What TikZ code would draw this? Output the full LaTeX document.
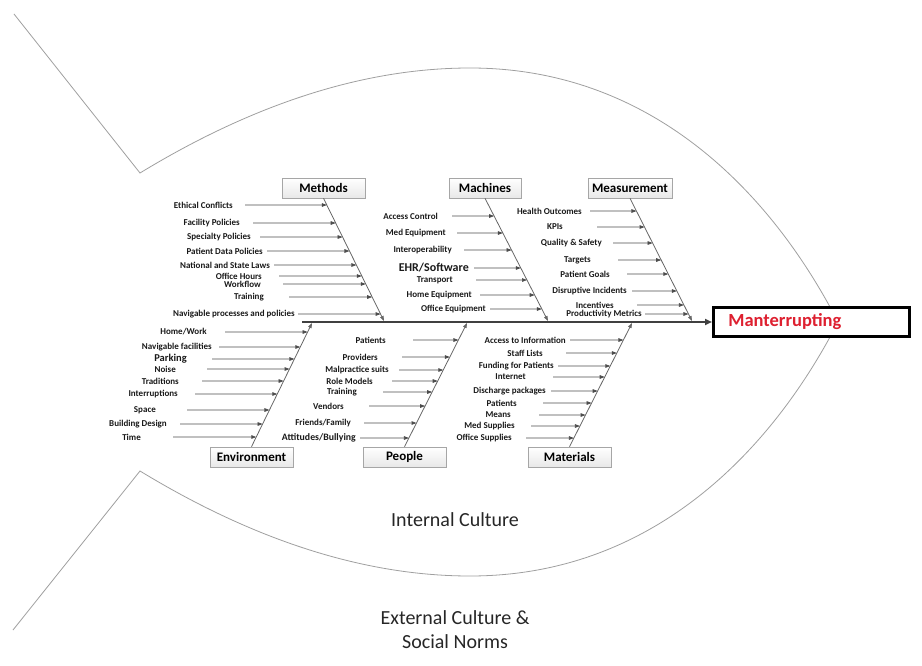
\documentclass[tikz,border=0pt]{standalone}
\usepackage{fontspec}
\setmainfont{Carlito}
\usetikzlibrary{arrows.meta, positioning, shadows}
\definecolor{headred}{RGB}{222,32,48}

\begin{document}
\begin{tikzpicture}[
  x=1pt, y=-1pt,
  outline/.style={draw=gray!75, line width=0.8pt},
  cat/.style={draw=gray!70, line width=0.6pt, top color=white, bottom color=gray!18,
              minimum width=83pt, minimum height=20pt, inner xsep=4pt, inner ysep=0pt,
              font=\fontsize{13}{13}\selectfont\bfseries,
              drop shadow={shadow xshift=1.2pt, shadow yshift=-1.2pt, opacity=0.3}},
  head/.style={draw=black, line width=2.8pt, fill=white, minimum height=29pt,
               text width=166pt, inner xsep=15pt, inner ysep=0pt, align=left,
               text=headred, font=\fontsize{18.5}{18.5}\selectfont\bfseries},
  lbl/.style={anchor=east, inner sep=0pt, text=black!90,
              font=\fontsize{9}{9.5}\selectfont\bfseries},
  rib/.style={-{Triangle[length=5pt,width=3.6pt]}, draw=black!70, line width=0.7pt},
  bone/.style={-{Triangle[length=5pt,width=3.6pt]}, draw=gray!80!black, line width=0.8pt},
  spine/.style={-{Triangle[length=7pt,width=6pt]}, draw=black!75, line width=1.8pt},
  note/.style={font=\fontsize{20}{24}\selectfont, align=center, text=black!85}
]
\useasboundingbox (0,0) rectangle (922,666);

% fish outline
\draw[outline] (14,14) -- (140,173) .. controls (260,100) and (370,68) .. (470,68)
  .. controls (650,68) and (770,190) .. (838,322)
  .. controls (770,454) and (650,576) .. (470,576)
  .. controls (370,576) and (260,544) .. (140,471) -- (13,630);

% head and spine
\node[head, anchor=west] (head) at (712,322) {Manterrupting};
\coordinate (tail) at (302,322);
\draw[spine] (tail) -- (head.west);

% categories
\node[cat] (methods) at (323.5,188) {Methods};
\node[cat, minimum width=72pt] (machines) at (485,188) {Machines};
\node[cat] (measure) at (630,188) {Measurement};
\node[cat] (environ) at (251.5,457) {Environment};
\node[cat] (people) at (404.5,457) {People};
\node[cat] (materials) at (569.5,457) {Materials};

% bones
\coordinate (mthb) at (384,321);
\coordinate (mchb) at (548,321);
\coordinate (msrb) at (692,321);
\coordinate (envb) at (312,323);
\coordinate (pplb) at (467,323);
\coordinate (matb) at (632,323);
\draw[bone] (methods.south) -- (mthb);
\draw[bone] (machines.south) -- (mchb);
\draw[bone] (measure.south) -- (msrb);
\draw[bone] (environ.north) -- (envb);
\draw[bone] (people.north) -- (pplb);
\draw[bone] (materials.north) -- (matb);

% causes: y / arrow start / label right edge / text
\foreach \y/\xs/\xl/\txt [count=\i] in {
  205/245/233/Ethical Conflicts, 223/253/240/Facility Policies,
  237/260/251/Specialty Policies, 251/267/263/Patient Data Policies,
  265/274/270/National and State Laws, 276/279/262/Office Hours,
  284/283/261/Workflow, 297/289/264/Training,
  314/298/295/Navigable processes and policies}{
  \coordinate (mths\i) at (\xs,\y);
  \node[lbl] (mthl\i) at (\xl,\y) {\txt};
  \draw[rib] (mths\i) -- (intersection of methods.south--mthb and mths\i--mthl\i);
}
\foreach \y/\xs/\xl/\txt [count=\i] in {
  216/452/438/Access Control, 233/457/446/Med Equipment,
  250/464/452/Interoperability,
  268/474/469/{\fontsize{12}{12}\selectfont EHR/Software},
  280/476/453/Transport, 295/480/472/Home Equipment,
  309/490/486/Office Equipment}{
  \coordinate (mchs\i) at (\xs,\y);
  \node[lbl] (mchl\i) at (\xl,\y) {\txt};
  \draw[rib] (mchs\i) -- (intersection of machines.south--mchb and mchs\i--mchl\i);
}
\foreach \y/\xs/\xl/\txt [count=\i] in {
  211/590/582/Health Outcomes, 227/597/563/KPIs,
  243/613/602/Quality \& Safety, 260/618/591/Targets,
  274/627/610/Patient Goals, 291/632/627/Disruptive Incidents,
  305/637/614/Incentives, 314/645/642/Productivity Metrics}{
  \coordinate (msrs\i) at (\xs,\y);
  \node[lbl] (msrl\i) at (\xl,\y) {\txt};
  \draw[rib] (msrs\i) -- (intersection of measure.south--msrb and msrs\i--msrl\i);
}
\foreach \y/\xs/\xl/\txt [count=\i] in {
  332/225/207/{Home/Work}, 347/219/212/Navigable facilities,
  359/212/187/{\fontsize{10.5}{11}\selectfont Parking},
  369/207/176/Noise, 381/202/179/Traditions,
  394/195/178/Interruptions, 410/187/156/Space,
  424/180/167/Building Design, 437/173/141/Time}{
  \coordinate (envs\i) at (\xs,\y);
  \node[lbl] (envl\i) at (\xl,\y) {\txt};
  \draw[rib] (envs\i) -- (intersection of environ.north--envb and envs\i--envl\i);
}
\foreach \y/\xs/\xl/\txt [count=\i] in {
  340/413/386/Patients, 357/402/378/Providers,
  370/399/389/Malpractice suits, 381/392/373/Role Models,
  392/383/357/Training, 406/369/344/Vendors,
  423/364/351/{Friends/Family},
  438/360/356/{\fontsize{9.8}{10}\selectfont Attitudes/Bullying}}{
  \coordinate (ppls\i) at (\xs,\y);
  \node[lbl] (ppll\i) at (\xl,\y) {\txt};
  \draw[rib] (ppls\i) -- (intersection of people.north--pplb and ppls\i--ppll\i);
}
\foreach \y/\xs/\xl/\txt [count=\i] in {
  340/570/566/Access to Information, 353/566/543/Staff Lists,
  366/558/554/Funding for Patients, 377/553/526/Internet,
  391/551/546/Discharge packages, 403/543/517/Patients,
  415/539/511/Means, 426/531/515/Med Supplies,
  438/526/512/Office Supplies}{
  \coordinate (mats\i) at (\xs,\y);
  \node[lbl] (matl\i) at (\xl,\y) {\txt};
  \draw[rib] (mats\i) -- (intersection of materials.north--matb and mats\i--matl\i);
}

% surroundings
\node[note] (inner) at (455,520) {Internal Culture};
\node[note] (outer) at (455,630) {External Culture \&\\Social Norms};
\end{tikzpicture}
\end{document}
